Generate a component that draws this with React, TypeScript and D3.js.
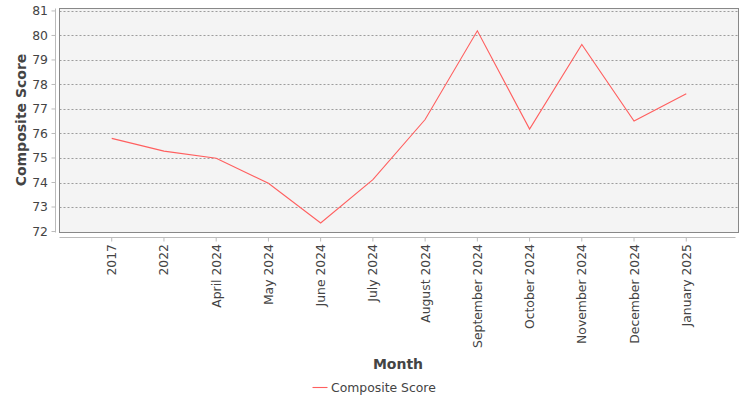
import * as d3 from 'd3';

// Composite score by month
const months = [
  '2017', '2022', 'April 2024', 'May 2024', 'June 2024', 'July 2024',
  'August 2024', 'September 2024', 'October 2024', 'November 2024',
  'December 2024', 'January 2025',
];
const scores = [75.8, 75.28, 74.99, 73.97, 72.35, 74.12, 76.57, 80.19, 76.18, 79.63, 76.51, 77.62];
const yTicks = [72, 73, 74, 75, 76, 77, 78, 79, 80, 81];
const seriesName = 'Composite Score';

const W = 750;
const H = 400;
const plot = { left: 59.5, right: 738.5, top: 8.5, bottom: 232.5 };
const font = '"DejaVu Sans", sans-serif';
const textColor = '#444444';
const lineColor = '#ff5f5f';
const tickSize = 12.4;

const App = () => {
  const x = d3.scalePoint<string>()
    .domain(months)
    .range([plot.left, plot.right])
    .padding(1);

  const y = d3.scaleLinear()
    .domain([71.96, 81.1])
    .range([plot.bottom, plot.top]);

  const line = d3.line<number>()
    .x((_, i) => x(months[i]) ?? 0)
    .y(d => y(d));

  const axisY = 237.5;
  const axisX = 55.5;

  return (
    <svg width={W} height={H} style={{ position: 'absolute', left: 0, top: 0, background: '#fff' }}
      fontFamily={font}>
      {/* plot background */}
      <rect x={plot.left} y={plot.top} width={plot.right - plot.left} height={plot.bottom - plot.top}
        fill="#f4f4f4" />

      {/* gridlines */}
      {yTicks.map(t => (
        <line key={'g' + t} x1={plot.left} x2={plot.right} y1={Math.round(y(t)) + 0.5} y2={Math.round(y(t)) + 0.5}
          stroke="#777" strokeWidth={0.7} strokeDasharray="2,2" />
      ))}

      <rect x={plot.left} y={plot.top} width={plot.right - plot.left} height={plot.bottom - plot.top}
        fill="none" stroke="#888" strokeWidth={1} />

      {/* left axis */}
      <line x1={axisX} x2={axisX} y1={plot.top} y2={plot.bottom} stroke="#bbb" strokeWidth={1} />
      {yTicks.map(t => (
        <g key={'y' + t}>
          <line x1={axisX - 4} x2={axisX} y1={y(t)} y2={y(t)} stroke="#bbb" />
          <text x={48} y={y(t)} dy="0.36em" textAnchor="end" fontSize={tickSize} fill={textColor}>{t}</text>
        </g>
      ))}

      {/* bottom axis */}
      <line x1={plot.left} x2={plot.right - 3} y1={axisY} y2={axisY} stroke="#bbb" strokeWidth={1} />
      {months.map(m => {
        const cx = x(m) ?? 0;
        return (
          <g key={m}>
            <line x1={cx} x2={cx} y1={axisY} y2={axisY + 4} stroke="#bbb" />
            <text transform={`translate(${cx},244) rotate(-90)`} dy="0.36em" textAnchor="end"
              fontSize={tickSize} fill={textColor}>{m}</text>
          </g>
        );
      })}

      {/* series */}
      <path d={line(scores) ?? ''} fill="none" stroke={lineColor} strokeWidth={1.1} />

      {/* axis titles */}
      <text transform="translate(26,120) rotate(-90)" textAnchor="middle" fontSize={14} fontWeight="bold"
        fill={textColor}>{seriesName}</text>
      <text x={398} y={369} textAnchor="middle" fontSize={14} fontWeight="bold" fill={textColor}>Month</text>

      {/* legend */}
      <line x1={312.5} x2={327.5} y1={387.5} y2={387.5} stroke={lineColor} strokeWidth={1.1} />
      <text x={331} y={387.5} dy="0.36em" fontSize={tickSize} fill={textColor}>{seriesName}</text>
    </svg>
  );
};

export default App;
